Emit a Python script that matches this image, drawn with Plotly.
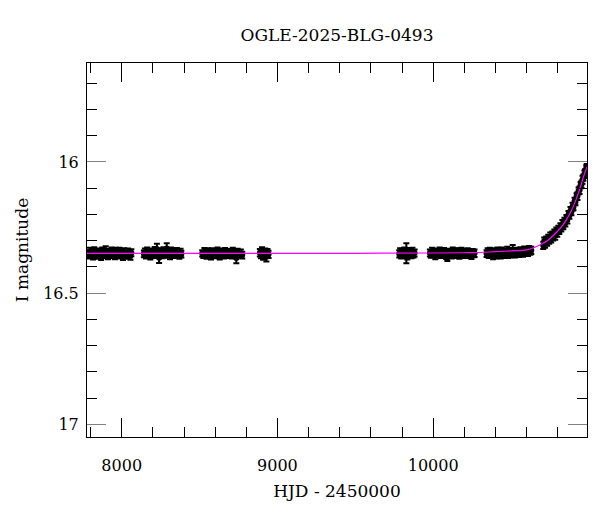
import plotly.graph_objects as go

# ---------------- data ----------------
t17 = [7781, 7789, 7796, 7803, 7809, 7816, 7824, 7831, 7838, 7846, 7853, 7860, 7868, 7875, 7882, 7890, 7897, 7904, 7912, 7919,
       7926, 7934, 7941, 7948, 7956, 7963, 7970, 7978, 7985, 7992, 8000, 8008, 8016, 8025, 8033, 8041, 8049, 8056, 8062]
m17 = [16.349, 16.356, 16.341, 16.352, 16.345, 16.360, 16.338, 16.350, 16.347, 16.355, 16.343, 16.351, 16.362, 16.340, 16.348,
       16.354, 16.336, 16.349, 16.357, 16.344, 16.350, 16.339, 16.353, 16.346, 16.358, 16.342, 16.349, 16.355, 16.341, 16.352,
       16.347, 16.359, 16.343, 16.350, 16.356, 16.344, 16.351, 16.358, 16.346]
e17 = [0.013, 0.012, 0.014, 0.013, 0.015, 0.012, 0.013, 0.016, 0.012, 0.014, 0.013, 0.015, 0.012, 0.014, 0.013, 0.012, 0.015,
       0.013, 0.014, 0.012, 0.016, 0.013, 0.012, 0.014, 0.013, 0.015, 0.012, 0.013, 0.014, 0.012, 0.013, 0.015, 0.014, 0.012,
       0.013, 0.014, 0.012, 0.015, 0.013]

t18 = [8142, 8149, 8156, 8163, 8170, 8177, 8184, 8191, 8198, 8205, 8212, 8219, 8226, 8233, 8240, 8247, 8254, 8261, 8268, 8275,
       8282, 8289, 8296, 8303, 8310, 8317, 8324, 8331, 8338, 8346, 8354, 8362, 8370, 8378, 8383]
m18 = [16.350, 16.344, 16.356, 16.341, 16.352, 16.347, 16.358, 16.343, 16.349, 16.354, 16.338, 16.346, 16.332, 16.351, 16.365,
       16.348, 16.342, 16.355, 16.340, 16.350, 16.346, 16.330, 16.353, 16.344, 16.357, 16.341, 16.349, 16.354, 16.346, 16.352,
       16.343, 16.350, 16.356, 16.345, 16.351]
e18 = [0.013, 0.014, 0.012, 0.015, 0.013, 0.012, 0.014, 0.013, 0.015, 0.012, 0.014, 0.013, 0.020, 0.013, 0.020, 0.014, 0.013,
       0.012, 0.015, 0.013, 0.014, 0.020, 0.012, 0.013, 0.014, 0.015, 0.013, 0.012, 0.014, 0.013, 0.015, 0.012, 0.013, 0.014, 0.013]

t19 = [8517, 8524, 8531, 8538, 8545, 8552, 8559, 8566, 8573, 8580, 8587, 8594, 8601, 8608, 8615, 8622, 8629, 8636, 8643, 8650,
       8657, 8664, 8671, 8678, 8685, 8692, 8699, 8706, 8713, 8720, 8728, 8736, 8745, 8755, 8765, 8774]
m19 = [16.348, 16.353, 16.342, 16.350, 16.356, 16.344, 16.351, 16.347, 16.358, 16.341, 16.349, 16.354, 16.345, 16.352, 16.339,
       16.348, 16.357, 16.343, 16.350, 16.346, 16.355, 16.340, 16.349, 16.353, 16.344, 16.351, 16.347, 16.356, 16.342, 16.350,
       16.346, 16.366, 16.344, 16.352, 16.348, 16.355]
e19 = [0.012, 0.013, 0.014, 0.012, 0.013, 0.015, 0.012, 0.013, 0.014, 0.012, 0.015, 0.013, 0.012, 0.014, 0.013, 0.012, 0.015,
       0.013, 0.012, 0.014, 0.013, 0.012, 0.015, 0.013, 0.012, 0.014, 0.013, 0.012, 0.015, 0.013, 0.014, 0.020, 0.013, 0.012,
       0.014, 0.013]

t20 = [8887, 8894, 8901, 8908, 8915, 8922, 8929, 8936, 8943]
m20 = [16.346, 16.354, 16.341, 16.358, 16.349, 16.343, 16.361, 16.347, 16.352]
e20 = [0.014, 0.013, 0.016, 0.015, 0.014, 0.013, 0.018, 0.015, 0.014]

t22 = [9782, 9788, 9795, 9801, 9808, 9815, 9821, 9828, 9834, 9841, 9848, 9854, 9861, 9867, 9874, 9881]
m22 = [16.350, 16.344, 16.355, 16.347, 16.352, 16.341, 16.349, 16.348, 16.356, 16.343, 16.351, 16.346, 16.354, 16.342,
       16.350, 16.347]
e22 = [0.014, 0.015, 0.013, 0.016, 0.014, 0.015, 0.017, 0.038, 0.016, 0.015, 0.014, 0.016, 0.013, 0.015, 0.014, 0.013]

t23 = [9979, 9986, 9993, 10000, 10007, 10014, 10021, 10028, 10035, 10042, 10049, 10056, 10063, 10070, 10077, 10084, 10091,
       10098, 10105, 10112, 10119, 10126, 10133, 10140, 10147, 10154, 10161, 10168, 10175, 10182, 10190, 10198, 10206, 10214,
       10222, 10230, 10238, 10246, 10254, 10261, 10266]
m23 = [16.347, 16.353, 16.341, 16.350, 16.345, 16.356, 16.343, 16.351, 16.348, 16.339, 16.354, 16.346, 16.352, 16.342, 16.349,
       16.357, 16.363, 16.344, 16.350, 16.347, 16.355, 16.340, 16.349, 16.353, 16.345, 16.351, 16.343, 16.356, 16.348, 16.342,
       16.350, 16.354, 16.346, 16.349, 16.341, 16.352, 16.347, 16.355, 16.344, 16.350, 16.348]
e23 = [0.013, 0.012, 0.014, 0.013, 0.012, 0.015, 0.013, 0.012, 0.014, 0.013, 0.012, 0.015, 0.013, 0.014, 0.012, 0.013, 0.014,
       0.013, 0.012, 0.015, 0.013, 0.014, 0.012, 0.013, 0.015, 0.012, 0.014, 0.013, 0.012, 0.015, 0.013, 0.012, 0.014, 0.013,
       0.012, 0.014, 0.013, 0.015, 0.012, 0.013, 0.014]

t24 = [10343, 10350, 10357, 10364, 10371, 10378, 10385, 10392, 10399, 10406, 10413, 10420, 10427, 10434, 10441, 10448, 10455,
       10462, 10469, 10476, 10483, 10490, 10497, 10504, 10511, 10518, 10525, 10532, 10539, 10546, 10553, 10561, 10569, 10577,
       10585, 10593, 10601, 10609, 10617, 10624, 10630]
m24 = [16.349, 16.343, 16.354, 16.340, 16.351, 16.346, 16.357, 16.342, 16.348, 16.353, 16.339, 16.350, 16.345, 16.355, 16.341,
       16.348, 16.352, 16.344, 16.349, 16.338, 16.353, 16.346, 16.342, 16.350, 16.336, 16.347, 16.352, 16.341, 16.348, 16.343,
       16.350, 16.339, 16.345, 16.349, 16.337, 16.344, 16.340, 16.346, 16.335, 16.341, 16.337]
e24 = [0.013, 0.014, 0.012, 0.013, 0.015, 0.012, 0.014, 0.013, 0.012, 0.015, 0.013, 0.014, 0.012, 0.013, 0.015, 0.012, 0.014,
       0.013, 0.012, 0.015, 0.013, 0.012, 0.014, 0.013, 0.020, 0.013, 0.012, 0.014, 0.013, 0.015, 0.012, 0.014, 0.013, 0.012,
       0.015, 0.013, 0.014, 0.012, 0.015, 0.013, 0.014]

t25 = [10707, 10713, 10719, 10726, 10732, 10739, 10745, 10752, 10758, 10765, 10771, 10778, 10784, 10791, 10797, 10804, 10810,
       10817, 10823, 10830, 10836, 10843, 10849, 10856, 10862, 10869, 10875, 10882, 10888, 10895, 10901, 10908, 10914, 10921,
       10927, 10934, 10940, 10947, 10953, 10959, 10965, 10971, 10977, 10983, 10986]
m25 = [16.318, 16.301, 16.312, 16.296, 16.305, 16.290, 16.300, 16.284, 16.294, 16.279, 16.287, 16.270, 16.281, 16.262, 16.271,
       16.256, 16.263, 16.248, 16.252, 16.236, 16.244, 16.226, 16.232, 16.214, 16.220, 16.200, 16.204, 16.186, 16.190, 16.170,
       16.172, 16.150, 16.152, 16.131, 16.130, 16.110, 16.108, 16.088, 16.085, 16.068, 16.060, 16.047, 16.040, 16.026, 16.020]
e25 = [0.014, 0.013, 0.015, 0.012, 0.014, 0.013, 0.012, 0.015, 0.013, 0.014, 0.012, 0.013, 0.015, 0.012, 0.014, 0.013, 0.012,
       0.014, 0.013, 0.015, 0.012, 0.013, 0.014, 0.012, 0.015, 0.013, 0.012, 0.014, 0.013, 0.015, 0.012, 0.014, 0.013, 0.012,
       0.015, 0.013, 0.014, 0.012, 0.013, 0.015, 0.012, 0.014, 0.013, 0.012, 0.012]

t_model = [7777, 8500, 9000, 9500, 10000, 10200, 10300, 10400, 10500, 10600, 10650, 10700, 10740, 10770, 10800, 10834, 10860,
           10888, 10910, 10931, 10950, 10963, 10975, 10988]
m_model = [16.348, 16.348, 16.348, 16.348, 16.347, 16.346, 16.345, 16.342, 16.339, 16.335, 16.326, 16.312, 16.297, 16.281,
           16.263, 16.240, 16.216, 16.185, 16.155, 16.121, 16.088, 16.061, 16.040, 16.018]

seasons = [(t17, m17, e17), (t18, m18, e18), (t19, m19, e19), (t20, m20, e20),
           (t22, m22, e22), (t23, m23, e23), (t24, m24, e24), (t25, m25, e25)]

title_text = "OGLE-2025-BLG-0493"
x_title = "HJD - 2450000"
y_title = "I magnitude"
x_ticks = [8000, 9000, 10000]
y_ticks = [16, 16.5, 17]

# ---------------- figure ----------------
# the page body has an 8px default margin, so the figure is 592x504 and offset by 8px
FONT = "DejaVu Serif"
W, H = 592, 504
fig = go.Figure()
for t, m, e in seasons:
    fig.add_trace(go.Scatter(
        x=t, y=m, mode="markers",
        marker=dict(color="black", size=6, line=dict(width=0)),
        error_y=dict(type="data", array=e, visible=True, color="black", thickness=2, width=3),
        showlegend=False, hoverinfo="skip"))

fig.add_trace(go.Scatter(x=t_model, y=m_model, mode="lines",
                         line=dict(color="#ff00ff", width=1.2, shape="spline"),
                         showlegend=False, hoverinfo="skip"))

fig.update_layout(
    width=W, height=H,
    margin=dict(l=79, r=13, t=55, b=75, autoexpand=False),
    paper_bgcolor="white", plot_bgcolor="white",
    font=dict(family=FONT, color="black", size=16),
    title=dict(text=title_text, x=0.5, xref="paper", y=1 - 27 / H, yref="container",
               xanchor="center", yanchor="middle", font=dict(family=FONT, size=17, color="black")),
)
fig.update_xaxes(
    range=[7777, 10988], showgrid=False, zeroline=False, automargin=False,
    showline=True, linecolor="black", linewidth=1, mirror="ticks",
    ticks="inside", ticklen=19, tickwidth=1, tickcolor="black",
    tickvals=x_ticks, ticktext=[str(v) for v in x_ticks],
    tickfont=dict(family=FONT, size=16, color="black"), ticklabelstandoff=14,
    minor=dict(dtick=200, tick0=8000, ticks="inside", ticklen=10, tickwidth=1, tickcolor="black", showgrid=False),
    title=dict(text=x_title, font=dict(family=FONT, size=17, color="black"), standoff=10),
)
fig.update_yaxes(
    range=[17.048, 15.623], showgrid=False, zeroline=False, automargin=False,
    showline=True, linecolor="black", linewidth=1, mirror="ticks",
    ticks="inside", ticklen=19, tickwidth=1, tickcolor="#808080",
    tickvals=y_ticks, ticktext=["16", "16.5", "17"],
    tickfont=dict(family=FONT, size=16, color="black"), ticklabelstandoff=4,
    minor=dict(dtick=0.1, tick0=16, ticks="inside", ticklen=10, tickwidth=1, tickcolor="black", showgrid=False),
    title=dict(text=y_title, font=dict(family=FONT, size=17, color="black"), standoff=10),
)

fig.write_html("out.html")
